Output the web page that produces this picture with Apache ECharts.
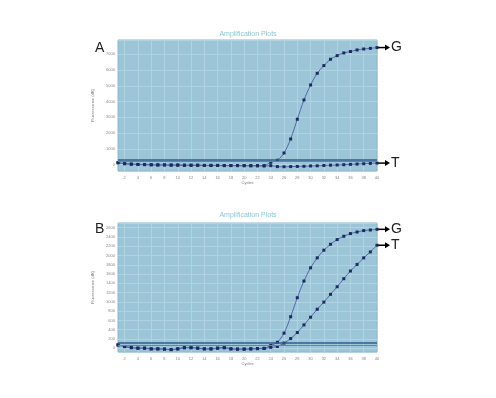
<!DOCTYPE html>
<html>
<head>
<meta charset="utf-8">
<script src="https://cdn.jsdelivr.net/npm/echarts@6/dist/echarts.min.js"></script>
<style>
html, body { margin: 0; padding: 0; background: #fff; }
#chart { width: 496px; height: 398px; }
</style>
</head>
<body>
<div id="chart"></div>
<script>
// cycle numbers shared by both plots
const cycles = [1, 2, 3, 4, 5, 6, 7, 8, 9, 10, 11, 12, 13, 14, 15, 16, 17, 18, 19, 20,
  21, 22, 23, 24, 25, 26, 27, 28, 29, 30, 31, 32, 33, 34, 35, 36, 37, 38, 39, 40];

// panel A
const aG = [130, 70, 40, 20, 10, 0, -10, -10, -20, -20, -30, -30, -30, -40, -40, -40, -50, -50, -50, -50,
  -60, -60, -60, 150, 280, 740, 1630, 2880, 4100, 5050, 5790, 6280, 6680, 6910, 7080, 7170, 7270, 7330, 7370, 7420];
const aT = [120, 60, 30, 10, 0, -10, -20, -20, -30, -30, -40, -40, -40, -50, -50, -50, -60, -60, -60, -70,
  -70, -70, -80, -60, -120, -130, -120, -110, -100, -80, -70, -50, -30, -20, 0, 20, 40, 60, 80, 100];
const aThreshold = [340, 230];

// panel B
const bG = [75, 40, 17, 5, 5, -10, -10, -15, -25, -10, 15, 15, 5, -10, -10, 5, 15, -10, -15, -15,
  -10, -5, 0, 60, 130, 326, 680, 1090, 1449, 1734, 1949, 2114, 2242, 2343, 2414, 2472, 2506, 2536, 2549, 2564];
const bT = [70, 35, 12, 0, 0, -15, -15, -20, -30, -15, 10, 10, 0, -15, -15, 0, 10, -15, -20, -20,
  -15, -10, -5, 20, 39, 112, 210, 339, 504, 670, 841, 995, 1163, 1326, 1500, 1665, 1807, 1949, 2077, 2221];
const bThreshold = [125, 75];

const plotBg = '#9dc5d8';
const gridLine = '#b0d3e3';
const lineColor = '#5069ab';
const dotColor = '#1d2a5e';

function xAxisFor(gridIndex) {
  return {
    type: 'category',
    gridIndex: gridIndex,
    data: cycles,
    boundaryGap: false,
    name: 'Cycles',
    nameLocation: 'middle',
    nameGap: 9,
    nameTextStyle: { fontSize: 4, color: '#777' },
    axisLine: { show: false },
    axisTick: { show: false },
    axisLabel: { fontSize: 4, color: '#888', margin: 5, interval: (i, v) => Number(v) % 2 === 0 },
    splitLine: { show: true, interval: (i, v) => Number(v) % 2 === 0, lineStyle: { color: gridLine, width: 1 } }
  };
}

function yAxisFor(gridIndex, min, max, splitNumber) {
  return {
    type: 'value',
    gridIndex: gridIndex,
    min: min,
    max: max,
    splitNumber: splitNumber,
    name: 'Fluorescence (dR)',
    nameLocation: 'middle',
    nameGap: 12,
    nameTextStyle: { fontSize: 4, color: '#777' },
    axisLine: { show: false },
    axisTick: { show: false },
    axisLabel: { fontSize: 4, color: '#888', margin: 3, showMinLabel: false, showMaxLabel: false, formatter: v => String(v) },
    splitLine: { lineStyle: { color: gridLine, width: 1 } }
  };
}

function curve(name, data, idx, threshold) {
  const s = {
    name: name,
    type: 'line',
    xAxisIndex: idx,
    yAxisIndex: idx,
    data: data,
    smooth: 0.3,
    symbol: 'rect',
    symbolSize: 3,
    lineStyle: { color: lineColor, width: 1 },
    itemStyle: { color: dotColor },
    animation: false
  };
  if (threshold) {
    s.markLine = {
      silent: true,
      symbol: 'none',
      label: { show: false },
      data: [
        { yAxis: threshold[0], lineStyle: { color: '#2f5d8c', width: 1.5, type: 'solid' } },
        { yAxis: threshold[1], lineStyle: { color: '#4c9a78', width: 1, type: 'solid' } }
      ]
    };
  }
  return s;
}

const chart = echarts.init(document.getElementById('chart'), null, { renderer: 'canvas' });
chart.setOption({
  backgroundColor: '#fff',
  animation: false,
  title: [
    { text: 'Amplification Plots', left: 'center', top: 26, textStyle: { fontSize: 7, fontWeight: 'normal', color: '#8cc6d4' } },
    { text: 'Amplification Plots', left: 'center', top: 207, textStyle: { fontSize: 7, fontWeight: 'normal', color: '#8cc6d4' } }
  ],
  grid: [
    { left: 118, top: 40, width: 259, height: 131, show: true, backgroundColor: plotBg, borderColor: '#8ab4c9', borderWidth: 1 },
    { left: 118, top: 223, width: 259, height: 129, show: true, backgroundColor: plotBg, borderColor: '#8ab4c9', borderWidth: 1 }
  ],
  xAxis: [xAxisFor(0), xAxisFor(1)],
  yAxis: [yAxisFor(0, -400, 7900, 8), yAxisFor(1, -80, 2700, 13)],
  series: [
    curve('A G', aG, 0, aThreshold),
    curve('A T', aT, 0),
    curve('B G', bG, 1, bThreshold),
    curve('B T', bT, 1)
  ]
});

// arrows pointing at the end of each curve, placed through the chart's own scales
const last = cycles.length - 1;
const ends = [
  { grid: 0, value: aG[last], text: 'G' },
  { grid: 0, value: aT[last], text: 'T' },
  { grid: 1, value: bG[last], text: 'G' },
  { grid: 1, value: bT[last], text: 'T' }
];
const graphics = [];
ends.forEach(e => {
  const p = chart.convertToPixel({ gridIndex: e.grid }, [last, e.value]);
  const x = p[0], y = p[1];
  graphics.push({ type: 'line', shape: { x1: x, y1: y, x2: x + 9, y2: y }, style: { stroke: '#000', lineWidth: 1.5 } });
  graphics.push({ type: 'polygon', shape: { points: [[x + 8, y - 3], [x + 13, y], [x + 8, y + 3]] }, style: { fill: '#000' } });
  graphics.push({ type: 'text', x: x + 14, y: y, style: { text: e.text, font: '14px "Liberation Sans", sans-serif', fill: '#222', verticalAlign: 'middle' } });
});
graphics.push({ type: 'text', x: 95, y: 48, style: { text: 'A', font: '14px "Liberation Sans", sans-serif', fill: '#222', verticalAlign: 'middle' } });
graphics.push({ type: 'text', x: 95, y: 229, style: { text: 'B', font: '14px "Liberation Sans", sans-serif', fill: '#222', verticalAlign: 'middle' } });
chart.setOption({ graphic: graphics });
</script>
</body>
</html>
